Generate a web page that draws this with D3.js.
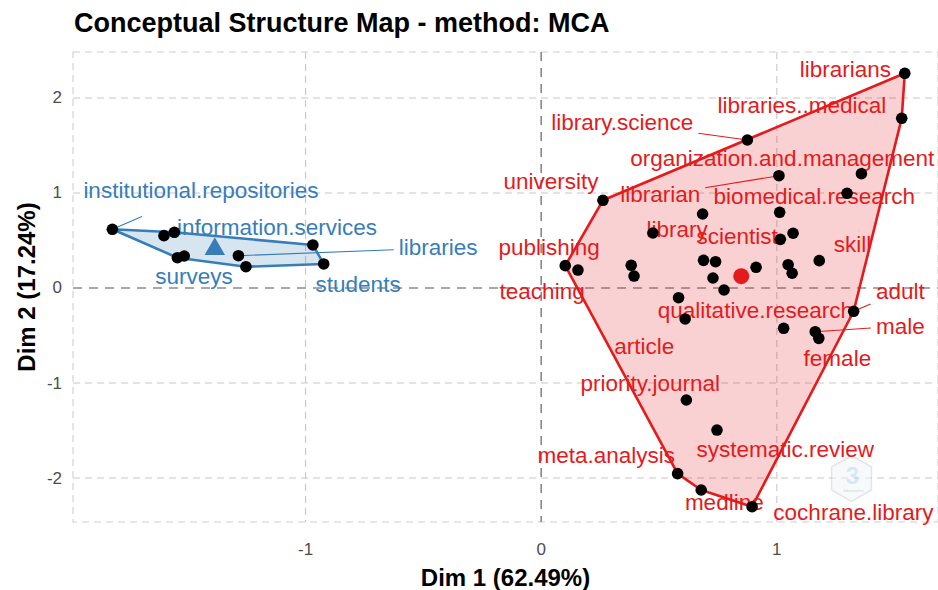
<!DOCTYPE html>
<html><head><meta charset="utf-8">
<script src="https://cdn.jsdelivr.net/npm/d3@7"></script>
<style>body{margin:0;background:#fff;} svg{display:block;font-family:"Liberation Sans",Arial,Helvetica,sans-serif;}</style>
</head><body>
<script>
// ---- data ----
const title = "Conceptual Structure Map - method: MCA";
const xTitle = "Dim 1 (62.49%)";
const yTitle = "Dim 2 (17.24%)";
const xTicks = [-1, 0, 1];
const yTicks = [-2, -1, 0, 1, 2];

const blueX = [-1.820, -1.601, -1.557, -1.544, -1.515, -1.285, -1.253, -0.969, -0.923];
const blueY = [ 0.618,  0.551,  0.586,  0.319,  0.337,  0.340,  0.224,  0.453,  0.253];

const redX = [1.543, 1.530, 0.875, 1.009, 1.359, 1.298, 0.262, 0.685, 1.012, 0.474, 1.069, 1.015,
  1.180, 0.102, 0.156, 0.382, 0.394, 0.689, 0.740, 0.729, 0.776, 0.912, 1.048, 1.065, 0.583,
  0.611, 1.326, 1.029, 1.163, 1.178, 0.616, 0.746, 0.579, 0.679, 0.895];
const redY = [2.260, 1.786, 1.558, 1.182, 1.203, 0.997, 0.923, 0.779, 0.797, 0.579, 0.576, 0.512,
  0.288, 0.235, 0.189, 0.239, 0.126, 0.291, 0.277, 0.105, -0.021, 0.218, 0.245, 0.155, -0.102,
  -0.326, -0.245, -0.424, -0.460, -0.530, -1.179, -1.495, -1.954, -2.126, -2.302];

// word labels (label centre in data units, linked point index or -1)
const blueWords = ["institutional.repositories", "information.services", "libraries", "surveys", "students"];
const blueLX = [-1.444, -1.121, -0.437, -1.473, -0.777];
const blueLY = [ 1.021,  0.642,  0.421,  0.116,  0.032];
const blueLink = [0, -1, 5, -1, -1];

const redWords = ["librarians", "libraries..medical", "library.science", "organization.and.management",
  "university", "librarian", "biomedical.research", "library", "scientist", "publishing", "skill",
  "teaching", "adult", "qualitative.research", "male", "article", "female", "priority.journal",
  "systematic.review", "meta.analysis", "medline", "cochrane.library"];
const redLX = [1.291, 1.106, 0.344, 1.023, 0.042, 0.505, 1.159, 0.577, 0.832, 0.034, 1.321,
  0.004, 1.524, 0.909, 1.524, 0.437, 1.257, 0.463, 1.036, 0.276, 0.777, 1.325];
const redLY = [2.295, 1.926, 1.737, 1.368, 1.116, 0.979, 0.958, 0.611, 0.537, 0.421, 0.463,
  -0.032, -0.032, -0.232, -0.400, -0.611, -0.747, -1.000, -1.705, -1.768, -2.263, -2.368];
const redLink = [-1, -1, 2, -1, -1, 3, -1, -1, -1, -1, -1, -1, 26, -1, 28, -1, -1, -1, -1, -1, -1, -1];

const clusterColors = ["#377EB8", "#E41A1C"];

// ---- layout ----
const W = 938, H = 590;
const P = {left: 73, right: 938, top: 52, bottom: 522};
const svg = d3.select("body").append("svg").attr("width", W).attr("height", H);

const x = d3.scaleLinear().domain([-1.987, 1.684]).range([P.left, P.right]);
const y = d3.scaleLinear().domain([-2.463, 2.484]).range([P.bottom, P.top]);

// grid
const grid = svg.append("g");
grid.append("rect").attr("x", P.left).attr("y", P.top).attr("width", P.right - P.left)
  .attr("height", P.bottom - P.top).attr("fill", "none").attr("stroke", "#cfcfcf")
  .attr("stroke-width", 1.1).attr("stroke-dasharray", "7,5");
grid.selectAll("line.gx").data(xTicks.filter(d => d !== 0)).join("line")
  .attr("x1", d => x(d)).attr("x2", d => x(d)).attr("y1", P.top).attr("y2", P.bottom)
  .attr("stroke", "#c8c8c8").attr("stroke-width", 1.1).attr("stroke-dasharray", "7,5");
grid.selectAll("line.gy").data(yTicks.filter(d => d !== 0)).join("line")
  .attr("y1", d => y(d)).attr("y2", d => y(d)).attr("x1", P.left).attr("x2", P.right)
  .attr("stroke", "#c8c8c8").attr("stroke-width", 1.1).attr("stroke-dasharray", "7,5");
grid.append("line").attr("x1", x(0)).attr("x2", x(0)).attr("y1", P.top).attr("y2", P.bottom)
  .attr("stroke", "#8c8c8c").attr("stroke-width", 1.7).attr("stroke-dasharray", "9,7");
grid.append("line").attr("y1", y(0)).attr("y2", y(0)).attr("x1", P.left).attr("x2", P.right)
  .attr("stroke", "#8c8c8c").attr("stroke-width", 1.7).attr("stroke-dasharray", "9,7");

// logo watermark
const logo = svg.append("g").attr("transform", `translate(${x(1.317)},${y(-2.005)})`).attr("opacity", 0.5);
const hex = d3.range(6).map(i => [23 * Math.cos(Math.PI / 3 * i + Math.PI / 6), 23 * Math.sin(Math.PI / 3 * i + Math.PI / 6)]);
logo.append("path").attr("d", "M" + hex.join("L") + "Z").attr("fill", "#f2f5f8").attr("stroke", "#c9cfd4").attr("stroke-width", 1.5);
logo.append("text").attr("x", 1).attr("y", 6).attr("text-anchor", "middle").attr("font-size", 24)
  .attr("font-weight", "bold").attr("fill", "#a8d6ee").text("3");
logo.append("text").attr("x", 2).attr("y", 14).attr("text-anchor", "middle").attr("font-size", 4)
  .attr("fill", "#9ab").text("bibliometrix");

// clusters
const clusters = [
  {X: blueX, Y: blueY, words: blueWords, LX: blueLX, LY: blueLY, link: blueLink, color: clusterColors[0], shape: "tri"},
  {X: redX, Y: redY, words: redWords, LX: redLX, LY: redLY, link: redLink, color: clusterColors[1], shape: "circle"}
];

clusters.forEach(c => {
  const pts = c.X.map((v, i) => [x(v), y(c.Y[i])]);
  const hull = d3.polygonHull(pts);
  svg.append("path").attr("d", "M" + hull.join("L") + "Z")
    .attr("fill", c.color).attr("fill-opacity", 0.2)
    .attr("stroke", c.color).attr("stroke-width", 2.6).attr("stroke-linejoin", "round");
});

// labels + connectors (segment from point toward label centre, stopped at padded label box)
const labelLayer = svg.append("g");
const segLayer = svg.append("g");
clusters.forEach(c => {
  c.words.forEach((w, i) => {
    const lx = x(c.LX[i]), ly = y(c.LY[i]);
    const t = labelLayer.append("text").attr("x", lx).attr("y", ly)
      .attr("text-anchor", "middle").attr("dominant-baseline", "central")
      .attr("font-size", 22.5).attr("fill", c.color).text(w);
    const k = c.link[i];
    if (k >= 0) {
      const b = t.node().getBBox();
      const px = x(c.X[k]), py = y(c.Y[k]);
      const hw = b.width / 2 + 5, hh = b.height / 2 + 13;
      const dx = lx - px, dy = ly - py;
      // find t where segment enters padded box
      let tEnter = 0;
      if (Math.abs(dx) > 1e-6) tEnter = Math.max(tEnter, Math.min((lx - hw - px) / dx, (lx + hw - px) / dx));
      if (Math.abs(dy) > 1e-6) tEnter = Math.max(tEnter, Math.min((ly - hh - py) / dy, (ly + hh - py) / dy));
      segLayer.append("line").attr("x1", px).attr("y1", py)
        .attr("x2", px + dx * tEnter).attr("y2", py + dy * tEnter)
        .attr("stroke", c.color).attr("stroke-width", 1.1);
    }
  });
});

// points
clusters.forEach(c => {
  svg.append("g").selectAll("circle").data(c.X.map((v, i) => [v, c.Y[i]])).join("circle")
    .attr("cx", d => x(d[0])).attr("cy", d => y(d[1])).attr("r", 5.8).attr("fill", "#000");
  const cx = x(d3.mean(c.X)), cy = y(d3.mean(c.Y));
  if (c.shape === "tri") {
    svg.append("path").attr("d", d3.symbol(d3.symbolTriangle, 180)())
      .attr("transform", `translate(${cx},${cy})`).attr("fill", c.color);
  } else {
    svg.append("circle").attr("cx", cx).attr("cy", cy).attr("r", 8).attr("fill", c.color);
  }
});

// axes text
const tickColor = "#4d4d4d";
svg.append("g").selectAll("text").data(xTicks).join("text")
  .attr("x", d => x(d)).attr("y", 555).attr("text-anchor", "middle")
  .attr("font-size", 17).attr("fill", tickColor).text(d => d);
svg.append("g").selectAll("text").data(yTicks).join("text")
  .attr("x", 62).attr("y", d => y(d)).attr("text-anchor", "end").attr("dominant-baseline", "central")
  .attr("font-size", 17).attr("fill", tickColor).text(d => d);

svg.append("text").attr("x", (P.left + P.right) / 2).attr("y", 586).attr("text-anchor", "middle")
  .attr("font-size", 24).attr("font-weight", "bold").attr("fill", "#000").text(xTitle);
svg.append("text").attr("transform", `translate(35,${(P.top + P.bottom) / 2}) rotate(-90)`)
  .attr("text-anchor", "middle").attr("font-size", 24).attr("font-weight", "bold").attr("fill", "#000").text(yTitle);
svg.append("text").attr("x", 74).attr("y", 32).attr("font-size", 27).attr("font-weight", "bold")
  .attr("fill", "#000").text(title);
</script>
</body></html>
